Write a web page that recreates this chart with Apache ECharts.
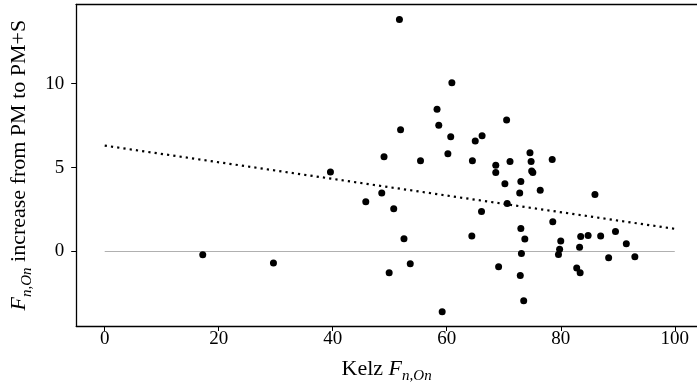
<!DOCTYPE html>
<html>
<head>
<meta charset="utf-8">
<script src="https://cdn.jsdelivr.net/npm/echarts@6/dist/echarts.min.js"></script>
<style>
html,body{margin:0;padding:0;background:#fff;}
#c{width:697px;height:389px;}
</style>
</head>
<body>
<div id="c"></div>
<script>
// Kelz F_{n,On} (x) and increase from PM to PM+S (y)
const kelz = [17.2, 29.6, 39.6, 45.8, 48.6, 49.0, 49.9, 50.7, 51.7, 51.9, 52.5, 53.6, 55.4, 58.3, 58.6, 59.2, 60.2, 60.7, 60.9, 64.4,
  64.5, 65.0, 66.1, 66.2, 68.6, 68.6, 69.1, 70.2, 70.5, 70.6, 71.1, 72.8, 72.9, 73.0, 73.0, 73.1, 73.5, 73.7, 74.6, 74.8,
  74.9, 75.1, 76.4, 78.5, 78.6, 79.6, 79.8, 80.0, 82.8, 83.3, 83.4, 83.5, 84.8, 86.0, 87.0, 88.4, 89.6, 91.5, 93.0];
const increase = [-0.20, -0.69, 4.74, 2.96, 3.49, 5.65, -1.27, 2.54, 13.83, 7.26, 0.76, -0.73, 5.40, 8.48, 7.52, -3.59, 5.83, 6.83, 10.06, 0.93,
  5.41, 6.59, 2.38, 6.89, 5.14, 4.70, -0.91, 4.03, 7.84, 2.86, 5.36, 3.49, -1.43, 4.17, 1.37, -0.12, -2.93, 0.74, 5.88, 5.36,
  4.79, 4.70, 3.65, 5.48, 1.77, -0.18, 0.14, 0.63, -0.99, 0.26, -1.26, 0.89, 0.96, 3.39, 0.93, -0.38, 1.19, 0.46, -0.32];
const trendX = [0, 100];
const trendY = [6.31, 1.35];
const zeroX = [0, 100];
const zeroY = [0, 0];
const xTicks = [0, 20, 40, 60, 80, 100];
const yTicks = [0, 5, 10];

const FONT = '"Liberation Serif", "DejaVu Serif", serif';
const points = kelz.map((x, i) => [x, increase[i]]);
const trend = trendX.map((x, i) => [x, trendY[i]]);
const zero = zeroX.map((x, i) => [x, zeroY[i]]);

const rich = {
  r: {fontFamily: FONT, fontSize: 22, color: '#000', lineHeight: 25, verticalAlign: 'top'},
  i: {fontFamily: FONT, fontSize: 22, fontStyle: 'italic', color: '#000', lineHeight: 25, verticalAlign: 'top'},
  s: {fontFamily: FONT, fontSize: 15, fontStyle: 'italic', color: '#000', lineHeight: 16, padding: [11, 0, 0, 0], verticalAlign: 'top'}
};

const XMIN = -5, XMAX = 103.9;
const chart = echarts.init(document.getElementById('c'), null, {renderer: 'canvas'});
chart.setOption({
  animation: false,
  backgroundColor: '#fff',
  grid: {left: 76.2, top: 4.3, right: 0, height: 322, show: false},
  xAxis: [{
    type: 'value', min: XMIN, max: XMAX, position: 'bottom',
    splitLine: {show: false},
    axisLine: {show: true, onZero: false, lineStyle: {color: '#000', width: 1.3}},
    axisTick: {show: true, length: 5, lineStyle: {color: '#000', width: 1}, customValues: xTicks},
    axisLabel: {color: '#000', fontFamily: FONT, fontSize: 19, margin: 4, customValues: xTicks},
    name: '{r|Kelz }{i|F}{s|n,On}',
    nameLocation: 'middle', nameGap: 32,
    nameTextStyle: {rich: rich}
  }, {
    type: 'value', min: XMIN, max: XMAX, position: 'top',
    splitLine: {show: false},
    axisLine: {show: true, onZero: false, lineStyle: {color: '#000', width: 1.3}},
    axisTick: {show: false},
    axisLabel: {show: false}
  }],
  yAxis: {
    type: 'value', min: -4.44, max: 14.73,
    splitLine: {show: false},
    axisLine: {show: true, onZero: false, lineStyle: {color: '#000', width: 1.3}},
    axisTick: {show: true, length: 5, lineStyle: {color: '#000', width: 1}, customValues: yTicks},
    axisLabel: {color: '#000', fontFamily: FONT, fontSize: 19, margin: 12, customValues: yTicks},
    name: '{i|F}{s|n,On}{r| increase from PM to PM+S}',
    nameLocation: 'middle', nameGap: 40, nameRotate: 90,
    nameTextStyle: {rich: rich}
  },
  series: [
    {type: 'line', data: zero, symbol: 'none', silent: true, lineStyle: {color: '#b0b0b0', width: 1.2}, z: 1},
    {type: 'scatter', data: points, symbol: 'circle', symbolSize: 7, itemStyle: {color: '#000', opacity: 1}, z: 3},
    {type: 'line', data: trend, symbol: 'none', silent: true, lineStyle: {color: '#000', width: 2.2, type: [2.2, 4.1], cap: 'butt'}, z: 2}
  ]
});
</script>
</body>
</html>
